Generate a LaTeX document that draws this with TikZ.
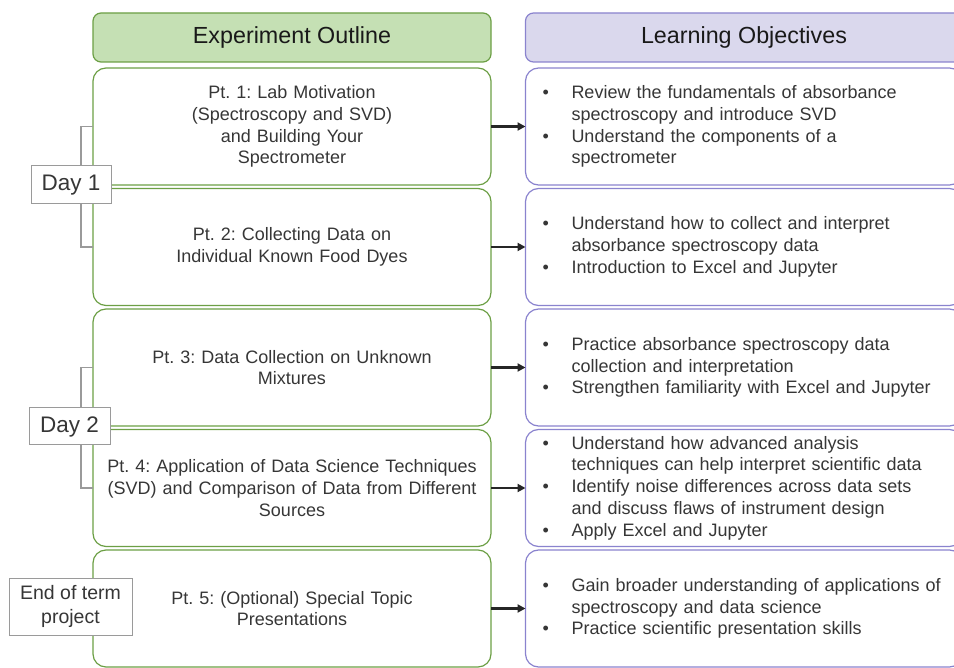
\documentclass[tikz,border=0pt]{standalone}
\usepackage{fontspec}
\setmainfont{Liberation Sans}
\usetikzlibrary{arrows.meta,positioning}

\definecolor{outfill}{HTML}{C5E0B4}
\definecolor{outdraw}{HTML}{6C9F45}
\definecolor{objfill}{HTML}{DAD8ED}
\definecolor{objdraw}{HTML}{8A83CE}
\definecolor{daydraw}{HTML}{9A9A9A}
\definecolor{bodytext}{HTML}{363636}

\newcommand{\bul}{\makebox[29pt][l]{\textbullet}}
\newcommand{\cont}{\hspace*{29pt}}

\frenchspacing

\begin{document}
\begin{tikzpicture}[x=1pt,y=1pt,node distance=3.5pt,outer sep=0pt,
        head/.style={rounded corners=8pt,line width=1.2pt,minimum height=49pt,
          font=\fontsize{23.3}{28}\selectfont,text=black!90},
        stagebox/.style={draw=outdraw,rounded corners=13pt,line width=1.2pt,
          text width=390pt,inner xsep=4pt,inner ysep=2pt,minimum height=117pt,
          align=center,font=\fontsize{18}{21.7}\selectfont,text=bodytext},
        goalbox/.style={draw=objdraw,rounded corners=13pt,line width=1.2pt,
          text width=403pt,inner xsep=17pt,inner ysep=2pt,minimum height=117pt,
          align=left,font=\fontsize{18}{21.7}\selectfont,text=bodytext},
        daybox/.style={draw=daydraw,fill=white,line width=1pt,text=bodytext,
          align=center,inner sep=2pt},
        bracket/.style={draw=daydraw,line width=1.2pt},
        goarrow/.style={-{Triangle[length=8pt,width=8pt]},line width=2.8pt,
          draw=black!85}]

  \clip (0,0) rectangle (954,-668);

  \node[head,draw=outdraw,fill=outfill,minimum width=398pt] (outhead)
        at (292,-37.5) {Experiment Outline};
  \node[head,draw=objdraw,fill=objfill,minimum width=437pt] (objhead)
        [right=34.5pt of outhead] {Learning Objectives};

  \node[stagebox] (o1) [below=6pt of outhead]
        {Pt. 1: Lab Motivation\\(Spectroscopy and SVD)\\and Building Your\\Spectrometer};
  \node[stagebox] (o2) [below=of o1]
        {Pt. 2: Collecting Data on\\Individual Known Food Dyes};
  \node[stagebox] (o3) [below=of o2]
        {Pt. 3: Data Collection on Unknown\\Mixtures};
  \node[stagebox] (o4) [below=of o3]
        {Pt. 4: Application of Data Science Techniques\\(SVD) and Comparison of Data from Different\\Sources};
  \node[stagebox] (o5) [below=of o4]
        {Pt. 5: (Optional) Special Topic\\Presentations};

  \node[goalbox] (g1) [right=34.5pt of o1]
        {\bul Review the fundamentals of absorbance\\
         \cont spectroscopy and introduce SVD\\
         \bul Understand the components of a\\
         \cont spectrometer};
  \node[goalbox] (g2) [right=34.5pt of o2]
        {\bul Understand how to collect and interpret\\
         \cont absorbance spectroscopy data\\
         \bul Introduction to Excel and Jupyter};
  \node[goalbox] (g3) [right=34.5pt of o3]
        {\bul Practice absorbance spectroscopy data\\
         \cont collection and interpretation\\
         \bul Strengthen familiarity with Excel and Jupyter};
  \node[goalbox] (g4) [right=34.5pt of o4]
        {\bul Understand how advanced analysis\\
         \cont techniques can help interpret scientific data\\
         \bul Identify noise differences across data sets\\
         \cont and discuss flaws of instrument design\\
         \bul Apply Excel and Jupyter};
  \node[goalbox] (g5) [right=34.5pt of o5]
        {\bul Gain broader understanding of applications of\\
         \cont spectroscopy and data science\\
         \bul Practice scientific presentation skills};

  \foreach \i in {1,...,5}
    \draw[goarrow] (o\i) -- (g\i);

  \node[daybox,minimum width=80pt,minimum height=38pt,
        font=\fontsize{22.5}{27}\selectfont] (day1) at (71,-185) {Day 1};
  \node[daybox,minimum width=81pt,minimum height=37pt,
        font=\fontsize{22.5}{27}\selectfont] (day2) at (69.5,-426.5) {Day 2};
  \node[daybox,minimum width=123pt,minimum height=57pt,
        font=\fontsize{19.5}{23.4}\selectfont] (term) at (70.5,-606.5)
        {End of term\\project};

  \coordinate (rail) at (81,0);
  \draw[bracket] (day1.north -| rail) |- (o1.west);
  \draw[bracket] (day1.south -| rail) |- (o2.west);
  \draw[bracket] (day2.north -| rail) |- (o3.west);
  \draw[bracket] (day2.south -| rail) |- (o4.west);

\end{tikzpicture}
\end{document}
